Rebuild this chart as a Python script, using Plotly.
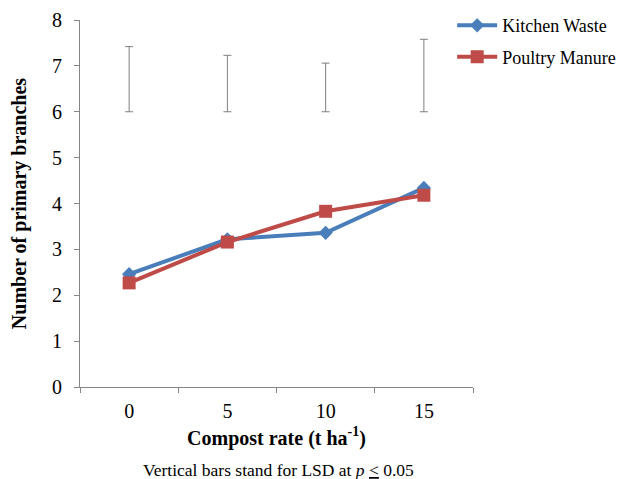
import plotly.graph_objects as go

rates = ["0", "5", "10", "15"]
kitchen_waste = [2.46, 3.22, 3.36, 4.34]
poultry_manure = [2.27, 3.16, 3.83, 4.18]
lsd_base = [6, 6, 6, 6]
lsd_values = [1.42, 1.23, 1.06, 1.58]

FF = "Liberation Serif"
axis_color = "#868686"

fig = go.Figure()

# LSD bars: centered between base and base+LSD
fig.add_trace(go.Scatter(
    x=rates,
    y=[b + v / 2 for b, v in zip(lsd_base, lsd_values)],
    mode="markers",
    marker=dict(size=0.1, color="rgba(0,0,0,0)"),
    error_y=dict(type="data", array=[v / 2 for v in lsd_values], symmetric=True,
                 color="#7f7f7f", thickness=1, width=4),
    showlegend=False, hoverinfo="skip",
))

fig.add_trace(go.Scatter(
    x=rates, y=kitchen_waste, name="Kitchen Waste",
    mode="lines+markers", legendgroup="kw",
    line=dict(color="#4A7EBB", width=4),
    marker=dict(symbol="diamond", size=11, color="#4A7EBB"),
))
fig.add_trace(go.Scatter(
    x=rates, y=poultry_manure, name="Poultry Manure",
    mode="lines+markers", legendgroup="pm",
    line=dict(color="#BE4B48", width=4),
    marker=dict(symbol="square", size=13, color="#BE4B48"),
))

# page body has an 8px margin: shrink the figure so the plot area lands where the reference has it
fig.update_layout(
    width=620, height=471,
    margin=dict(l=72, r=155, t=12, b=92, autoexpand=False),
    paper_bgcolor="white", plot_bgcolor="white",
    font=dict(family=FF, size=20, color="black"),
    legend=dict(x=0.947, y=1.035, xanchor="left", yanchor="top",
                font=dict(family=FF, size=18, color="black"), itemwidth=40, tracegroupgap=5,
                traceorder="grouped", bgcolor="rgba(0,0,0,0)"),
    xaxis=dict(
        type="category", range=[-0.5, 3.5], showgrid=False, showline=True, linecolor=axis_color,
        linewidth=1, ticks="outside", tickson="boundaries", ticklen=5,
        tickcolor=axis_color, tickfont=dict(family=FF, size=20, color="black"), ticklabelstandoff=6,
        automargin=False,
        title=dict(text="<b>Compost rate (t ha<sup>-1</sup>)</b>",
                   font=dict(family=FF, size=20, color="black"), standoff=9),
    ),
    yaxis=dict(
        range=[0, 8], dtick=1, showgrid=False, showline=True, linecolor=axis_color,
        linewidth=1, ticks="outside", ticklen=5, tickcolor=axis_color,
        tickfont=dict(family=FF, size=20, color="black"), zeroline=False, ticklabelstandoff=8,
        automargin=False,
        title=dict(text="<b>Number of primary branches</b>",
                   font=dict(family=FF, size=20, color="black"), standoff=20),
    ),
    annotations=[dict(
        text="Vertical bars stand for LSD at <i>p</i> <u>&lt;</u> 0.05",
        xref="paper", yref="paper", x=0.506, y=-0.226, xanchor="center", yanchor="middle",
        showarrow=False, font=dict(family=FF, size=17.5, color="black"),
    )],
)

fig.write_html("out.html")
